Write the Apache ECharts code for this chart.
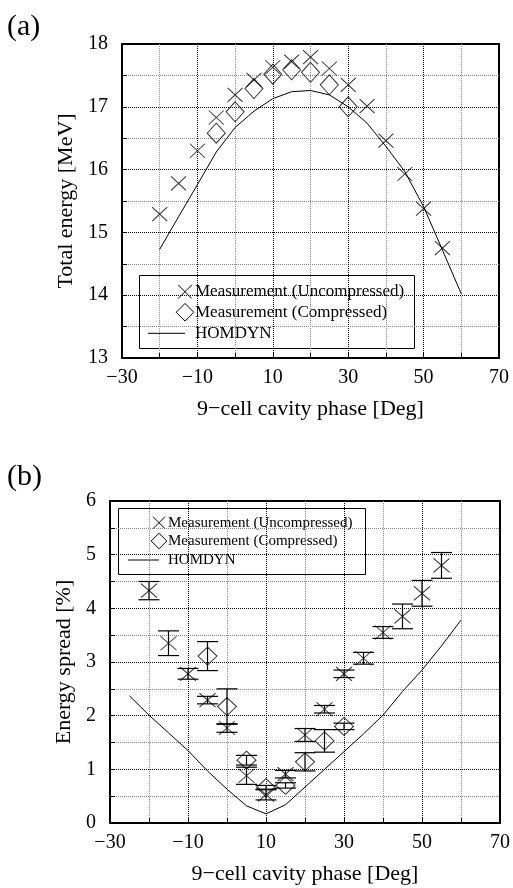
<!DOCTYPE html>
<html>
<head>
<meta charset="utf-8">
<script src="https://cdn.jsdelivr.net/npm/echarts@6/dist/echarts.min.js"></script>
<style>
  html, body { margin: 0; padding: 0; background: #fff; }
  #chart { width: 513px; height: 888px; }
</style>
</head>
<body>
<div id="chart"></div>
<script>
// ---- (a) total energy ----
const phaseUncompA = [-20, -15, -10, -5, 0, 5, 10, 15, 20, 25, 30, 35, 40, 45, 50, 55]
const energyUncomp = [15.29, 15.78, 16.30, 16.83, 17.19, 17.43, 17.63, 17.72, 17.79, 17.61, 17.35, 17.01, 16.46, 15.93, 15.38, 14.75]
const phaseCompA = [-5, 0, 5, 10, 15, 20, 25, 30]
const energyComp = [16.58, 16.92, 17.29, 17.52, 17.59, 17.55, 17.35, 17.00]
const phaseSimA = [-20, -15, -10, -5, 0, 5, 10, 15, 20, 25, 30, 35, 40, 45, 50, 55, 60]
const energySim = [14.73, 15.25, 15.76, 16.28, 16.67, 16.93, 17.13, 17.24, 17.26, 17.19, 17.00, 16.74, 16.37, 15.97, 15.41, 14.72, 14.02]

// ---- (b) energy spread ----
const phaseUncompB = [-20, -15, -10, -5, 0, 5, 10, 15, 20, 25, 30, 35, 40, 45, 50, 55]
const spreadUncomp = [4.33, 3.35, 2.78, 2.29, 1.77, 0.88, 0.53, 0.91, 1.64, 2.12, 2.78, 3.07, 3.55, 3.85, 4.28, 4.80]
const spreadUncompErr = [0.17, 0.23, 0.10, 0.07, 0.08, 0.16, 0.10, 0.07, 0.12, 0.07, 0.07, 0.11, 0.11, 0.23, 0.24, 0.24]
const phaseCompB = [-5, 0, 5, 10, 15, 20, 25, 30]
const spreadComp = [3.11, 2.17, 1.17, 0.66, 0.70, 1.14, 1.53, 1.80]
const spreadCompErr = [0.27, 0.33, 0.09, 0.04, 0.05, 0.17, 0.21, 0.06]
const phaseSimB = [-25, -20, -15, -10, -5, 0, 5, 10, 15, 20, 25, 30, 35, 40, 45, 50, 55, 60]
const spreadSim = [2.37, 2.01, 1.68, 1.35, 0.97, 0.63, 0.32, 0.17, 0.34, 0.67, 1.00, 1.33, 1.66, 2.01, 2.45, 2.85, 3.30, 3.78]

const serif = 'Liberation Serif'
const pair = (xs, ys) => xs.map((x, i) => [x, ys[i]])
const bars = (xs, ys, es) => xs.map((x, i) => [x, ys[i] - es[i], ys[i] + es[i]])
const minus = v => String(v).replace('-', '\u2212')

const crossPath = 'path://M0,0L10,10M10,0L0,10'

function errorBar(params, api) {
  const x = api.value(0)
  const lo = api.coord([x, api.value(1)])
  const hi = api.coord([x, api.value(2)])
  const w = 10.5
  const st = { stroke: '#000', lineWidth: 1.2 }
  return {
    type: 'group',
    children: [
      { type: 'line', shape: { x1: lo[0], y1: lo[1], x2: hi[0], y2: hi[1] }, style: st },
      { type: 'line', shape: { x1: lo[0] - w, y1: lo[1], x2: lo[0] + w, y2: lo[1] }, style: st },
      { type: 'line', shape: { x1: hi[0] - w, y1: hi[1], x2: hi[0] + w, y2: hi[1] }, style: st },
    ],
  }
}

function xAxisOf(gridIndex) {
  return {
    type: 'value', gridIndex, min: -30, max: 70, interval: 20,
    name: '9\u2212cell cavity phase [Deg]', nameLocation: 'middle', nameGap: 40,
    nameTextStyle: { fontFamily: serif, fontSize: 22, color: '#000' },
    axisLine: { show: true, onZero: false, lineStyle: { color: '#000', width: 2 } },
    axisTick: { show: true, inside: true, length: 5, lineStyle: { color: '#000' } },
    minorTick: { show: true, splitNumber: 2, length: 5, lineStyle: { color: '#000' } },
    axisLabel: { fontFamily: serif, fontSize: 20, color: '#000', margin: 10, formatter: minus },
    splitLine: { show: true, lineStyle: { color: '#000', type: 'dotted', width: 1 } },
    minorSplitLine: { show: true, lineStyle: { color: '#888', type: 'dotted', width: 1 } },
  }
}

function yAxisOf(gridIndex, min, max, name, nameGap) {
  return {
    type: 'value', gridIndex, min, max, interval: 1,
    name, nameLocation: 'middle', nameGap,
    nameTextStyle: { fontFamily: serif, fontSize: 22, color: '#000' },
    axisLine: { show: true, onZero: false, lineStyle: { color: '#000', width: 2 } },
    axisTick: { show: true, inside: true, length: 5, lineStyle: { color: '#000' } },
    minorTick: { show: true, splitNumber: 2, length: 5, lineStyle: { color: '#000' } },
    axisLabel: { fontFamily: serif, fontSize: 20, color: '#000', margin: 14 },
    splitLine: { show: true, lineStyle: { color: '#000', type: 'dotted', width: 1 } },
    minorSplitLine: { show: true, lineStyle: { color: '#888', type: 'dotted', width: 1 } },
  }
}

function legendBox(x, y, w, h, fs, rows, iconX, textX, lineX0) {
  const children = [
    { type: 'rect', shape: { x, y, width: w, height: h }, style: { fill: '#fff', stroke: '#000', lineWidth: 1 } },
  ]
  const labels = ['Measurement (Uncompressed)', 'Measurement (Compressed)', 'HOMDYN']
  labels.forEach((t, i) => {
    children.push({
      type: 'text', x: textX, y: rows[i],
      style: { text: t, fontFamily: serif, fontSize: fs, fill: '#000', verticalAlign: 'middle' },
    })
  })
  const s = fs * 0.4
  children.push({ type: 'line', shape: { x1: iconX - s, y1: rows[0] - s, x2: iconX + s, y2: rows[0] + s }, style: { stroke: '#000', lineWidth: 1 } })
  children.push({ type: 'line', shape: { x1: iconX - s, y1: rows[0] + s, x2: iconX + s, y2: rows[0] - s }, style: { stroke: '#000', lineWidth: 1 } })
  const d = fs * 0.52
  children.push({
    type: 'polygon',
    shape: { points: [[iconX, rows[1] - d], [iconX + d, rows[1]], [iconX, rows[1] + d], [iconX - d, rows[1]]] },
    style: { fill: 'none', stroke: '#000', lineWidth: 1 },
  })
  children.push({ type: 'line', shape: { x1: lineX0, y1: rows[2], x2: iconX, y2: rows[2] }, style: { stroke: '#000', lineWidth: 1 } })
  return { type: 'group', z: 100, children }
}

const chart = echarts.init(document.getElementById('chart'))
chart.setOption({
  animation: false,
  backgroundColor: '#fff',
  grid: [
    { left: 122, top: 44, width: 377, height: 314, show: true, borderColor: '#000', borderWidth: 2, backgroundColor: 'transparent' },
    { left: 110, top: 501, width: 390, height: 322, show: true, borderColor: '#000', borderWidth: 2, backgroundColor: 'transparent' },
  ],
  xAxis: [xAxisOf(0), xAxisOf(1)],
  yAxis: [
    yAxisOf(0, 13, 18, 'Total energy [MeV]', 43),
    yAxisOf(1, 0, 6, 'Energy spread [%]', 31),
  ],
  graphic: [
    { type: 'text', left: 7, top: 12, style: { text: '(a)', fontFamily: serif, fontSize: 30, fill: '#000' } },
    { type: 'text', left: 7, top: 462, style: { text: '(b)', fontFamily: serif, fontSize: 30, fill: '#000' } },
    legendBox(139.5, 275.5, 275, 73, 17, [291.7, 312.3, 333.3], 185, 195, 148),
    legendBox(118.5, 508.5, 247, 66, 15, [522.7, 541, 560], 159, 168, 128),
  ],
  series: [
    {
      type: 'line', xAxisIndex: 0, yAxisIndex: 0, data: pair(phaseSimA, energySim),
      showSymbol: false, lineStyle: { color: '#000', width: 1 }, silent: true,
    },
    {
      type: 'scatter', xAxisIndex: 0, yAxisIndex: 0, data: pair(phaseUncompA, energyUncomp),
      symbol: crossPath, symbolSize: [15, 14], silent: true,
      itemStyle: { color: 'rgba(0,0,0,0)', borderColor: '#000', borderWidth: 1 },
    },
    {
      type: 'scatter', xAxisIndex: 0, yAxisIndex: 0, data: pair(phaseCompA, energyComp),
      symbol: 'diamond', symbolSize: [18, 20], silent: true,
      itemStyle: { color: 'rgba(0,0,0,0)', borderColor: '#000', borderWidth: 1 },
    },
    {
      type: 'line', xAxisIndex: 1, yAxisIndex: 1, data: pair(phaseSimB, spreadSim),
      showSymbol: false, lineStyle: { color: '#000', width: 1 }, silent: true,
    },
    {
      type: 'custom', xAxisIndex: 1, yAxisIndex: 1, renderItem: errorBar, silent: true,
      encode: { x: 0, y: [1, 2] }, data: bars(phaseUncompB, spreadUncomp, spreadUncompErr),
    },
    {
      type: 'custom', xAxisIndex: 1, yAxisIndex: 1, renderItem: errorBar, silent: true,
      encode: { x: 0, y: [1, 2] }, data: bars(phaseCompB, spreadComp, spreadCompErr),
    },
    {
      type: 'scatter', xAxisIndex: 1, yAxisIndex: 1, data: pair(phaseUncompB, spreadUncomp),
      symbol: crossPath, symbolSize: [16, 14], silent: true,
      itemStyle: { color: 'rgba(0,0,0,0)', borderColor: '#000', borderWidth: 1 },
    },
    {
      type: 'scatter', xAxisIndex: 1, yAxisIndex: 1, data: pair(phaseCompB, spreadComp),
      symbol: 'diamond', symbolSize: [19, 18], silent: true,
      itemStyle: { color: 'rgba(0,0,0,0)', borderColor: '#000', borderWidth: 1 },
    },
  ],
})
</script>
</body>
</html>
